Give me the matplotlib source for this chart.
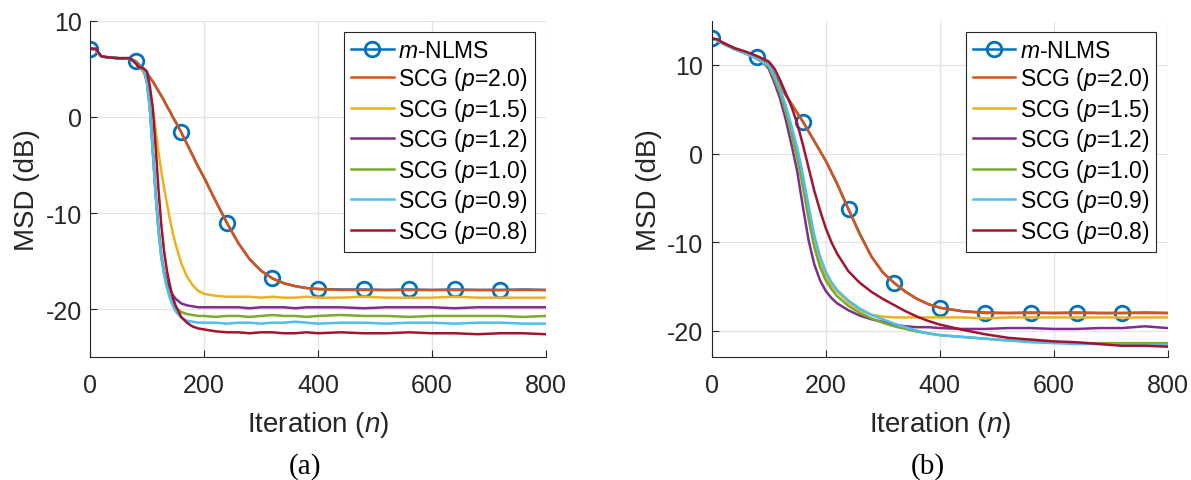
import numpy as np
import matplotlib
matplotlib.use('Agg')
import matplotlib.pyplot as plt

plt.rcParams['font.family'] = ['Liberation Sans', 'DejaVu Sans']
plt.rcParams['mathtext.fontset'] = 'custom'
plt.rcParams['mathtext.rm'] = 'Liberation Sans'
plt.rcParams['mathtext.it'] = 'Liberation Sans:italic'
plt.rcParams['axes.unicode_minus'] = False

# ---- data ----
labels = ['$m$-NLMS', 'SCG ($p$=2.0)', 'SCG ($p$=1.5)', 'SCG ($p$=1.2)',
          'SCG ($p$=1.0)', 'SCG ($p$=0.9)', 'SCG ($p$=0.8)']
colors = ['#0072BD', '#D95319', '#EDB120', '#7E2F8E', '#77AC30', '#4DBEEE', '#A2142F']

# (a)
n_a = [0, 10, 15, 20, 30, 50, 70, 80, 85, 90, 95, 100, 105, 110, 115, 120, 125, 130, 135, 140,
       145, 150, 160, 170, 180, 190, 200, 220, 240, 260, 280, 300, 320, 340, 360, 380, 400,
       440, 480, 520, 560, 600, 640, 680, 720, 760, 800]
nlms_a = [7.1, 7.0, 6.6, 6.3, 6.2, 6.1, 6.1, 5.8, 5.5, 5.2, 4.9, 4.5, 4.1, 3.7, 3.2, 2.7, 2.2,
          1.7, 1.1, 0.6, 0.0, -0.5, -1.6, -2.8, -4.0, -5.2, -6.3, -8.7, -11.0, -13.1, -14.8,
          -16.0, -16.8, -17.3, -17.6, -17.8, -17.9, -17.95, -17.95, -18.0, -17.95, -18.0,
          -17.95, -18.0, -18.0, -17.95, -18.0]
p20_a = [7.1, 7.0, 6.6, 6.3, 6.2, 6.1, 6.1, 5.7, 5.4, 5.2, 4.9, 4.5, 4.1, 3.7, 3.2, 2.7, 2.2,
         1.7, 1.1, 0.6, 0.0, -0.5, -1.6, -2.8, -4.0, -5.2, -6.3, -8.7, -11.0, -13.1, -14.8,
         -16.0, -16.8, -17.3, -17.6, -17.8, -17.9, -18.0, -18.0, -18.0, -18.0, -18.0,
         -18.0, -18.0, -18.0, -18.0, -18.0]
p15_a = [7.1, 7.0, 6.6, 6.3, 6.2, 6.1, 6.1, 5.7, 5.3, 5.0, 4.5, 3.6, 2.5, 1.0, -1.2, -3.6, -5.6,
         -7.4, -9.0, -10.6, -12.0, -13.2, -15.2, -16.6, -17.5, -18.1, -18.4, -18.6, -18.7,
         -18.7, -18.7, -18.8, -18.7, -18.8, -18.8, -18.7, -18.8, -18.8, -18.7, -18.8, -18.8,
         -18.8, -18.7, -18.8, -18.8, -18.8, -18.8]
p12_a = [7.1, 7.0, 6.6, 6.3, 6.2, 6.1, 6.1, 5.6, 5.2, 5.0, 4.9, 3.6, 1.0, -3.3, -7.8, -11.5,
         -14.3, -16.1, -17.2, -17.9, -18.5, -18.9, -19.4, -19.6, -19.7, -19.8, -19.8, -19.8,
         -19.8, -19.8, -19.9, -19.8, -19.8, -19.8, -19.9, -19.8, -19.8, -19.8, -19.9, -19.8,
         -19.8, -19.8, -19.9, -19.8, -19.8, -19.8, -19.8]
p10_a = [7.1, 7.0, 6.6, 6.3, 6.2, 6.1, 6.1, 5.6, 5.2, 5.0, 4.9, 3.6, 0.9, -3.4, -7.9, -11.7,
         -14.5, -16.3, -17.6, -18.6, -19.3, -19.8, -20.3, -20.5, -20.6, -20.7, -20.7, -20.8,
         -20.7, -20.7, -20.8, -20.7, -20.6, -20.7, -20.7, -20.8, -20.7, -20.6, -20.7, -20.7,
         -20.8, -20.7, -20.7, -20.7, -20.7, -20.8, -20.7]
p09_a = [7.1, 7.0, 6.6, 6.3, 6.2, 6.1, 6.1, 5.6, 5.2, 5.0, 4.9, 3.5, 0.8, -3.5, -8.0, -11.8,
         -14.6, -16.4, -17.8, -18.8, -19.6, -20.2, -20.9, -21.2, -21.3, -21.4, -21.4, -21.4,
         -21.5, -21.4, -21.4, -21.5, -21.4, -21.4, -21.3, -21.4, -21.5, -21.4, -21.4, -21.5,
         -21.4, -21.4, -21.5, -21.4, -21.4, -21.5, -21.5]
p08_a = [7.1, 7.1, 6.7, 6.3, 6.2, 6.1, 6.1, 5.6, 5.2, 5.1, 5.0, 4.7, 3.2, 1.0, -3.0, -7.4,
         -11.2, -14.0, -16.0, -17.5, -18.7, -19.6, -20.8, -21.4, -21.8, -22.0, -22.1, -22.3,
         -22.4, -22.4, -22.5, -22.4, -22.4, -22.5, -22.5, -22.4, -22.5, -22.4, -22.5, -22.5,
         -22.4, -22.5, -22.5, -22.6, -22.5, -22.5, -22.6]

# (b)
n_b = [0, 10, 20, 40, 60, 80, 90, 100, 110, 120, 130, 140, 150, 160, 170, 180, 190, 200, 210,
       220, 240, 260, 280, 300, 320, 340, 360, 380, 400, 440, 480, 520, 560, 600, 640, 680,
       720, 760, 800]
nlms_b = [13.0, 12.8, 12.5, 11.9, 11.4, 10.9, 10.6, 10.1, 8.9, 7.7, 6.6, 5.6, 4.6, 3.6, 2.5,
          1.4, 0.3, -0.8, -2.1, -3.4, -6.3, -9.1, -11.6, -13.4, -14.6, -15.6, -16.4, -17.0,
          -17.4, -17.8, -17.95, -18.0, -17.95, -18.0, -17.95, -18.0, -18.0, -17.95, -18.0]
p20_b = [13.0, 12.8, 12.5, 11.9, 11.4, 10.9, 10.6, 10.1, 8.9, 7.7, 6.6, 5.6, 4.6, 3.6, 2.5,
         1.4, 0.3, -0.8, -2.1, -3.4, -6.3, -9.1, -11.6, -13.4, -14.6, -15.6, -16.4, -17.0,
         -17.4, -17.8, -18.0, -18.0, -18.0, -18.0, -18.0, -18.0, -18.0, -18.0, -18.0]
p15_b = [13.0, 12.8, 12.4, 11.8, 11.3, 10.7, 10.3, 9.9, 8.6, 7.0, 5.0, 2.7, 0.2, -3.0, -6.6,
         -9.9, -12.2, -13.8, -14.9, -15.6, -16.8, -17.7, -18.2, -18.4, -18.5, -18.5, -18.5,
         -18.5, -18.5, -18.5, -18.6, -18.5, -18.5, -18.5, -18.5, -18.5, -18.5, -18.5, -18.5]
p12_b = [13.0, 12.8, 12.4, 11.8, 11.3, 10.7, 10.3, 9.6, 8.0, 6.2, 3.8, 1.0, -2.0, -6.0, -9.8,
         -12.5, -14.3, -15.5, -16.3, -16.9, -17.7, -18.3, -18.7, -19.0, -19.3, -19.5, -19.6,
         -19.6, -19.7, -19.8, -19.8, -19.7, -19.7, -19.8, -19.8, -19.7, -19.7, -19.5, -19.7]
p10_b = [13.0, 12.8, 12.4, 11.8, 11.3, 10.7, 10.3, 9.8, 8.4, 6.8, 4.7, 2.2, -0.5, -3.8, -7.4,
         -10.6, -12.8, -14.3, -15.3, -16.1, -17.2, -18.0, -18.6, -19.1, -19.5, -19.8, -20.1,
         -20.3, -20.5, -20.7, -20.9, -21.1, -21.2, -21.3, -21.4, -21.4, -21.4, -21.4, -21.4]
p09_b = [13.0, 12.8, 12.4, 11.8, 11.3, 10.7, 10.3, 10.0, 8.8, 7.3, 5.4, 3.1, 0.7, -2.4, -5.9,
         -9.2, -11.6, -13.3, -14.5, -15.4, -16.6, -17.5, -18.2, -18.7, -19.2, -19.6, -20.0,
         -20.3, -20.5, -20.7, -20.9, -21.1, -21.3, -21.4, -21.5, -21.5, -21.6, -21.6, -21.6]
p08_b = [13.0, 12.9, 12.5, 11.9, 11.5, 11.0, 10.7, 10.4, 9.6, 8.3, 6.8, 5.3, 3.4, 1.0, -1.6,
         -4.2, -6.4, -8.4, -10.0, -11.3, -13.3, -14.6, -15.6, -16.4, -17.1, -17.8, -18.4,
         -18.9, -19.3, -19.9, -20.4, -20.8, -21.0, -21.2, -21.3, -21.5, -21.7, -21.7, -21.8]

panels = [
    (n_a, [nlms_a, p20_a, p15_a, p12_a, p10_a, p09_a, p08_a], (-25, 10)),
    (n_b, [nlms_b, p20_b, p15_b, p12_b, p10_b, p09_b, p08_b], (-23, 15)),
]

fig = plt.figure(figsize=(11.91, 4.81), dpi=100)
W, H = 1191, 481
ax_pos = [[90 / W, 1 - 358.3 / H, 456 / W, 336.6 / H],
          [711.7 / W, 1 - 358.3 / H, 456 / W, 336.6 / H]]
axes = [fig.add_axes(p) for p in ax_pos]

for ax, (n, series, ylim) in zip(axes, panels):
    n = np.asarray(n)
    marks = list(np.where((n % 80 == 0) & (n < 800))[0])
    for i, (y, c, lab) in enumerate(zip(series, colors, labels)):
        if i == 0:
            ax.plot(n, y, color=c, lw=1.8, label=lab, marker='o', markevery=marks,
                    ms=10.5, mfc='none', mew=2)
        else:
            ax.plot(n, y, color=c, lw=1.8, label=lab)
    ax.set_xlim(0, 800)
    ax.set_ylim(*ylim)
    ax.set_xticks([0, 200, 400, 600, 800])
    ax.set_yticks([-20, -10, 0, 10])
    ax.grid(True, color='#e3e3e3', lw=0.9)
    ax.set_axisbelow(True)
    for s in ['top', 'right']:
        ax.spines[s].set_visible(False)
    for s in ['left', 'bottom']:
        ax.spines[s].set_color('#262626')
        ax.spines[s].set_linewidth(0.8)
    ax.tick_params(direction='in', length=5, width=0.8, colors='#262626', labelsize=18)
    ax.tick_params(axis='x', pad=11)
    ax.tick_params(axis='y', pad=6)
    ax.set_xlabel('Iteration ($n$)', fontsize=20, color='#262626', labelpad=9)
    ax.set_ylabel('MSD (dB)', fontsize=20, color='#262626', labelpad=4)
    leg = ax.legend(loc='upper right', bbox_to_anchor=(0.975, 0.966), fontsize=16.5,
                    frameon=True, fancybox=False, framealpha=1, edgecolor='#262626',
                    borderaxespad=0, borderpad=0.3, labelspacing=0.15,
                    handlelength=1.85, handletextpad=0.2)
    leg.get_frame().set_linewidth(0.8)

fig.text(305 / W, 1 - 467 / H, '(a)', ha='center', va='center',
         family='Liberation Serif', fontsize=21)
fig.text(928 / W, 1 - 467 / H, '(b)', ha='center', va='center',
         family='Liberation Serif', fontsize=21)

fig.savefig('out.png', dpi=100)
